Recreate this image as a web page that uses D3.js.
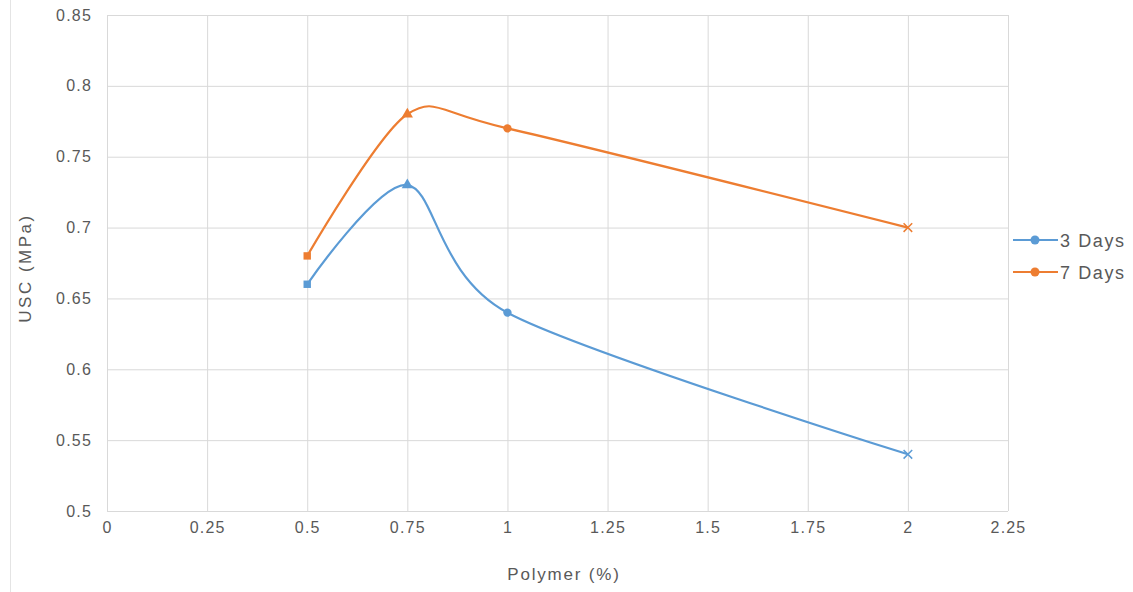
<!DOCTYPE html>
<html>
<head>
<meta charset="utf-8">
<script src="https://cdn.jsdelivr.net/npm/d3@7"></script>
<style>
  body { margin: 0; background: #fff; }
  svg { font-family: "Liberation Sans", Arial, sans-serif; }
</style>
</head>
<body>
<svg id="chart" width="1133" height="592"></svg>
<script>
// Data
const polymer = [0.5, 0.75, 1, 2];
const days3 = [0.66, 0.73, 0.64, 0.54];
const days7 = [0.68, 0.78, 0.77, 0.70];
const seriesNames = ['3 Days', '7 Days'];
const xTicks = [0, 0.25, 0.5, 0.75, 1, 1.25, 1.5, 1.75, 2, 2.25];
const yTicks = [0.5, 0.55, 0.6, 0.65, 0.7, 0.75, 0.8, 0.85];
const markerShapes = [d3.symbolSquare, d3.symbolTriangle, d3.symbolCircle, d3.symbolX];

const colors = ['#5b9bd5', '#ed7d31'];
const textColor = '#595959';
const svg = d3.select('#chart');

// outer chart border
svg.append('rect')
    .attr('x', 10.5).attr('y', -2).attr('width', 1140).attr('height', 600)
    .attr('fill', 'none').attr('stroke', '#e4e4e4');

const plot = { left: 107, right: 1008, top: 15, bottom: 511 };

const x = d3.scaleLinear().domain([0, 2.25]).range([plot.left, plot.right]);
const y = d3.scaleLinear().domain([0.5, 0.85]).range([plot.bottom, plot.top]);

// gridlines
const grid = svg.append('g');
grid.selectAll('line.v').data(xTicks).enter().append('line')
    .attr('x1', (d) => x(d) + 0.5).attr('x2', (d) => x(d) + 0.5)
    .attr('y1', plot.top).attr('y2', plot.bottom)
    .attr('stroke', '#d9d9d9').attr('stroke-width', 1);
grid.selectAll('line.h').data(yTicks).enter().append('line')
    .attr('x1', plot.left).attr('x2', plot.right)
    .attr('y1', (d) => y(d) + 0.5).attr('y2', (d) => y(d) + 0.5)
    .attr('stroke', '#d9d9d9').attr('stroke-width', 1);

// axes (labels only)
const xAxis = svg.append('g')
    .attr('transform', `translate(0,${plot.bottom})`)
    .call(d3.axisBottom(x).tickValues(xTicks).tickSize(0).tickPadding(14).tickFormat((d) => d3.format('')(d)));
const yAxis = svg.append('g')
    .attr('transform', `translate(${plot.left},0)`)
    .call(d3.axisLeft(y).tickValues(yTicks).tickSize(0).tickPadding(17).tickFormat((d) => d3.format('')(+d.toFixed(2))));
[xAxis, yAxis].forEach((a) => {
    a.select('.domain').remove();
    a.selectAll('text').attr('fill', textColor).style('font-size', '16px').style('letter-spacing', '1.2px');
});
xAxis.selectAll('text').attr('dy', '0.5em');
yAxis.selectAll('text').attr('dx', '2px');

// axis titles
svg.append('text')
    .attr('x', 564).attr('y', 580)
    .attr('text-anchor', 'middle').attr('fill', textColor)
    .style('font-size', '17px').style('letter-spacing', '1.8px')
    .text('Polymer (%)');
svg.append('text')
    .attr('transform', 'translate(31,268) rotate(-90)')
    .attr('text-anchor', 'middle').attr('fill', textColor)
    .style('font-size', '17px').style('letter-spacing', '2.5px')
    .text('USC (MPa)');

// series
const line = d3.line()
    .x((d) => x(d[0]))
    .y((d) => y(d[1]))
    .curve(d3.curveCardinal.tension(0.15));

[days3, days7].forEach((vals, i) => {
    const pts = polymer.map((p, j) => [p, vals[j]]);
    svg.append('path')
        .datum(pts)
        .attr('d', line)
        .attr('fill', 'none')
        .attr('stroke', colors[i])
        .attr('stroke-width', 2.2);

    svg.selectAll(null).data(pts).enter().append('path')
        .attr('transform', (d) => `translate(${x(d[0])},${y(d[1])})`)
        .attr('d', (d, j) => d3.symbol().type(markerShapes[j]).size(j === 3 ? 50 : 55)())
        .attr('fill', colors[i])
        .attr('stroke', colors[i])
        .attr('stroke-width', (d, j) => (j === 3 ? 1.5 : 0));
});

// legend
const legend = svg.append('g');
seriesNames.forEach((name, i) => {
    const ly = 240 + i * 32;
    legend.append('line')
        .attr('x1', 1013).attr('x2', 1058).attr('y1', ly).attr('y2', ly)
        .attr('stroke', colors[i]).attr('stroke-width', 2.2);
    legend.append('circle')
        .attr('cx', 1035).attr('cy', ly).attr('r', 4.5)
        .attr('fill', colors[i]);
    legend.append('text')
        .attr('x', 1060).attr('y', ly + 6.5)
        .attr('fill', textColor)
        .style('font-size', '18px').style('letter-spacing', '1.6px')
        .text(name);
});
</script>
</body>
</html>
